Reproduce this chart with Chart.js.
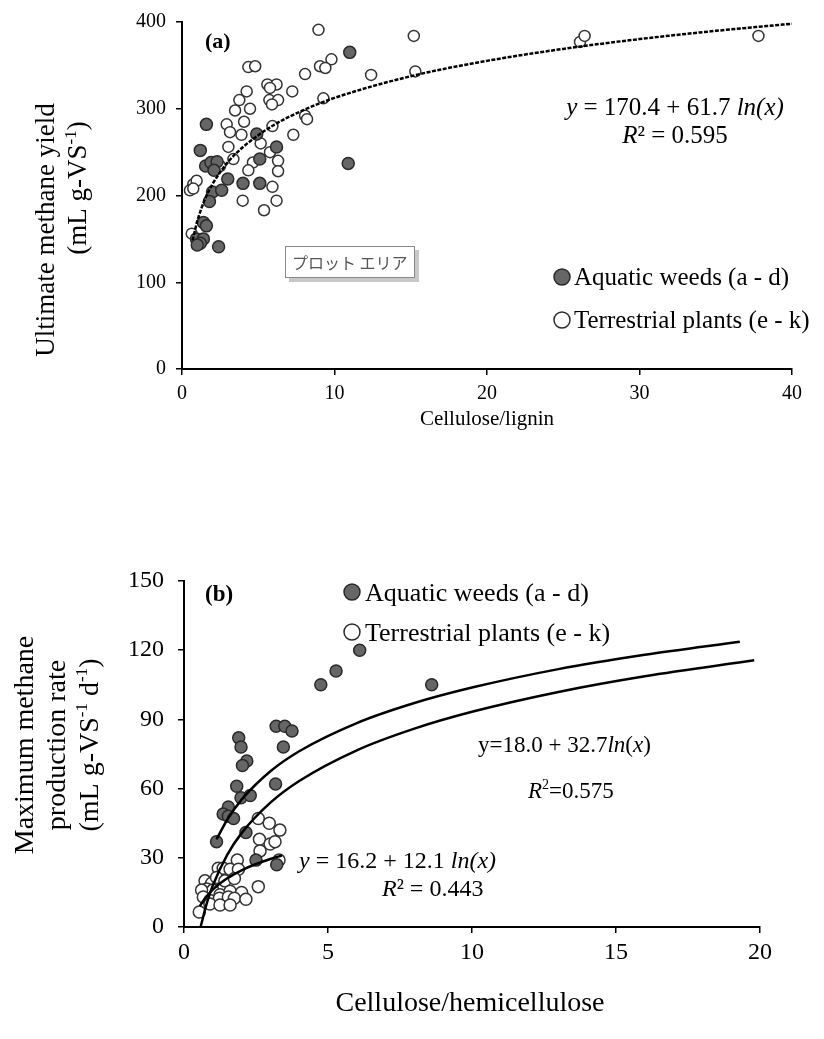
<!DOCTYPE html>
<html>
<head>
<meta charset="utf-8">
<script src="https://cdn.jsdelivr.net/npm/chart.js@4.4.0/dist/chart.umd.min.js"></script>
<style>
  body { margin: 0; background: #fff; }
  #wrap { position: relative; width: 824px; height: 1039px; }
  .box { position: absolute; left: 0; width: 824px; }
</style>
</head>
<body>
<div id="wrap">
  <div class="box" style="top:0;height:450px"><canvas id="chartA" width="824" height="450"></canvas></div>
  <div class="box" style="top:540px;height:499px"><canvas id="chartB" width="824" height="499"></canvas></div>
</div>
<script>
// (a) cellulose/lignin vs ultimate methane yield
const aquaticA_x = [1.6, 1.2, 1.55, 1.9, 2.3, 2.1, 3.0, 4.0, 5.1, 2.0, 2.6, 1.8, 1.4, 1.6, 0.95, 1.4, 1.2, 1.0, 2.4, 4.9, 6.2, 5.1, 11.0, 10.9];
const aquaticA_y = [282, 252, 234, 238, 239, 229, 219, 214, 214, 204, 206, 193, 169, 165, 150, 150, 145, 143, 141, 271, 256, 242, 365, 237];
const terrestrialA_x = [8.95, 4.35, 4.8, 9.8, 9.05, 9.4, 8.07, 12.4, 5.6, 6.2, 5.77, 4.24, 7.23, 3.76, 5.73, 6.3, 5.9, 9.27, 3.48, 4.46, 8.07, 8.2, 2.93, 3.15, 4.07, 3.9, 5.93, 7.3, 5.16, 3.04, 5.77, 3.37, 4.65, 6.3, 6.3, 4.35, 2.5, 0.74, 0.96, 0.52, 0.74, 3.98, 5.38, 6.2, 5.93, 0.64, 15.2, 15.3, 26.1, 26.4, 37.8];
const terrestrialA_y = [391, 348, 349, 357, 349, 347, 340, 339, 328, 328, 324, 320, 320, 310, 310, 310, 305, 312, 298, 300, 292, 288, 282, 273, 285, 270, 280, 270, 260, 256, 250, 242, 238, 240, 228, 229, 234, 213, 217, 206, 208, 194, 183, 194, 210, 156, 384, 343, 377, 384, 384];
// trend line y = 170.4 + 61.7 ln(x)
const fitA_x = [0.7, 1, 1.5, 2, 3, 4, 6, 8, 10, 15, 20, 25, 30, 35, 40];
const fitA_y = [148.4, 170.4, 195.4, 213.2, 238.2, 255.9, 281.0, 298.7, 312.5, 337.5, 355.2, 369.0, 380.3, 389.8, 398.0];
const ticksA_x = [0, 10, 20, 30, 40];
const ticksA_y = [0, 100, 200, 300, 400];

// (b) cellulose/hemicellulose vs maximum methane production rate
const aquaticB_x = [6.1, 5.28, 4.75, 8.6, 1.9, 1.98, 3.2, 3.5, 3.75, 3.45, 2.18, 2.03, 1.83, 3.18, 1.98, 2.3, 1.54, 1.36, 1.54, 1.72, 1.13, 2.15, 2.5, 3.22];
const aquaticB_y = [120, 111, 105, 105, 82, 78, 87, 87, 85, 78, 72, 70, 61, 62, 56, 57, 52, 49, 48, 47, 37, 41, 29, 27];
const terrestrialB_x = [2.58, 2.96, 3.33, 2.62, 2.99, 3.16, 2.64, 1.85, 3.3, 1.19, 1.36, 1.6, 1.89, 0.73, 0.96, 1.13, 1.42, 1.75, 0.79, 1.0, 1.25, 1.6, 2.0, 2.58, 0.61, 0.67, 0.9, 1.23, 1.54, 1.75, 2.15, 0.9, 1.25, 1.6, 0.53];
const terrestrialB_y = [47, 45, 42, 38, 36, 37, 33, 29, 29, 25.5, 25.5, 25, 25, 20, 19, 21.5, 20, 21, 16.5, 16, 14, 15.5, 15, 17.5, 16, 13, 11.5, 12.5, 13, 12.5, 12, 10, 9.5, 9.5, 6.5];
// curves
const fitAllB_x = [0.58, 0.8, 1, 1.5, 2, 3, 4, 6, 8, 10, 13, 16, 19.8];
const fitAllB_y = [0.2, 10.7, 18, 31.3, 40.7, 53.9, 63.3, 76.6, 86.0, 93.3, 101.9, 108.7, 115.6];
const fitAquaticB_x = [1.13, 1.5, 2, 3, 4, 6, 8, 10, 13, 16, 19.3];
const fitAquaticB_y = [38.0, 46.5, 55.2, 67.5, 76.2, 88.4, 97.1, 103.8, 111.8, 118.0, 123.7];
const fitTerrB_x = [0.55, 0.7, 1, 1.5, 2, 2.5, 3, 3.4];
const fitTerrB_y = [9.0, 11.9, 16.2, 21.1, 24.6, 27.3, 29.5, 31.0];
const ticksB_x = [0, 5, 10, 15, 20];
const ticksB_y = [0, 30, 60, 90, 120, 150];

const SERIF = '"Liberation Serif", "Times New Roman", serif';

function pairs(xs, ys) {
    return xs.map(function(x, i) { return { x: x, y: ys[i] }; });
}

function filledSet(label, xs, ys, r) {
    return { label: label, data: pairs(xs, ys), pointRadius: r, pointBackgroundColor: '#666666',
             pointBorderColor: '#2a2a2a', pointBorderWidth: 1.5, showLine: false, order: 2 };
}
function openSet(label, xs, ys, r) {
    return { label: label, data: pairs(xs, ys), pointRadius: r, pointBackgroundColor: '#ffffff',
             pointBorderColor: '#333333', pointBorderWidth: 1.5, showLine: false, order: 3 };
}
function curveSet(label, xs, ys, dash) {
    return { label: label, data: pairs(xs, ys), showLine: true, pointRadius: 0, borderColor: '#000',
             borderWidth: 2.5, borderDash: dash || [], cubicInterpolationMode: 'monotone', fill: false, order: 1 };
}

// draw a line made of styled pieces: {t, i, b, sup}
function drawRich(ctx, segs, x, y, size, align) {
    let w = 0;
    const parts = segs.map(function(s) {
        const fs = s.sup ? Math.round(size * 0.62) : size;
        const font = (s.i ? 'italic ' : '') + (s.b ? 'bold ' : '') + fs + 'px ' + SERIF;
        ctx.font = font;
        const pw = ctx.measureText(s.t).width;
        w += pw;
        return { t: s.t, font: font, pw: pw, dy: s.sup ? -size * 0.38 : 0 };
    });
    let cx = align === 'center' ? x - w / 2 : (align === 'right' ? x - w : x);
    ctx.textAlign = 'left';
    ctx.textBaseline = 'alphabetic';
    ctx.fillStyle = '#000';
    parts.forEach(function(p) {
        ctx.font = p.font;
        ctx.fillText(p.t, cx, y + p.dy);
        cx += p.pw;
    });
}

function drawRotated(ctx, segs, x, y, size) {
    ctx.save();
    ctx.translate(x, y);
    ctx.rotate(-Math.PI / 2);
    drawRich(ctx, segs, 0, 0, size, 'center');
    ctx.restore();
}

function marker(ctx, x, y, r, filled) {
    ctx.beginPath();
    ctx.arc(x, y, r, 0, Math.PI * 2);
    ctx.fillStyle = filled ? '#666666' : '#ffffff';
    ctx.fill();
    ctx.lineWidth = 1.5;
    ctx.strokeStyle = '#2a2a2a';
    ctx.stroke();
}

function axisOpts(min, max, step, width, height, fontSize, pad) {
    const o = {
        type: 'linear', min: min, max: max,
        ticks: { stepSize: step, color: '#000', padding: pad, font: { family: SERIF, size: fontSize } },
        grid: { drawOnChartArea: false, drawTicks: true, tickLength: 6, color: '#000', lineWidth: 1.5 },
        border: { color: '#000', width: 2 },
        title: { display: false }
    };
    if (width) o.afterFit = function(scale) { scale.width = width; };
    if (height) o.afterFit = function(scale) { scale.height = height; };
    return o;
}

// chart (a)
const decorA = {
    id: 'decorA',
    afterDraw: function(chart) {
        const ctx = chart.ctx;
        ctx.save();
        drawRich(ctx, [{ t: '(a)', b: true }], 205, 48, 22, 'left');
        drawRotated(ctx, [{ t: 'Ultimate methane yield' }], 54, 230, 27);
        drawRotated(ctx, [{ t: '(mL g-VS' }, { t: '-1', sup: true }, { t: ')' }], 86, 188, 27);
        drawRich(ctx, [{ t: 'Cellulose/lignin' }], 487, 425, 21, 'center');
        drawRich(ctx, [{ t: 'y', i: true }, { t: ' = 170.4 + 61.7 ' }, { t: 'ln(x)', i: true }], 675, 115, 25, 'center');
        drawRich(ctx, [{ t: 'R', i: true }, { t: '² = 0.595' }], 675, 143, 25, 'center');
        marker(ctx, 562, 277, 8, true);
        drawRich(ctx, [{ t: 'Aquatic weeds (a - d)' }], 574, 285, 25, 'left');
        marker(ctx, 562, 320, 8, false);
        drawRich(ctx, [{ t: 'Terrestrial plants (e - k)' }], 574, 328, 25, 'left');
        // excel hover label
        ctx.fillStyle = '#c8c8c8';
        ctx.fillRect(289, 250, 130, 32);
        ctx.fillStyle = '#ffffff';
        ctx.fillRect(285, 246, 130, 32);
        ctx.strokeStyle = '#8a8a8a';
        ctx.lineWidth = 1;
        ctx.strokeRect(285.5, 246.5, 129, 31);
        ctx.fillStyle = '#555';
        ctx.font = '16px "Noto Sans CJK JP"';
        ctx.textBaseline = 'middle';
        ctx.fillText('プロット エリア', 292, 263);
        ctx.restore();
    }
};

new Chart(document.getElementById('chartA').getContext('2d'), {
    type: 'scatter',
    data: {
        datasets: [
            curveSet('y = 170.4 + 61.7 ln(x)', fitA_x, fitA_y, [4, 1.5]),
            filledSet('Aquatic weeds (a - d)', aquaticA_x, aquaticA_y, 6),
            openSet('Terrestrial plants (e - k)', terrestrialA_x, terrestrialA_y, 5.5)
        ]
    },
    options: {
        responsive: false,
        animation: false,
        layout: { padding: { top: 21, right: 32, left: 0, bottom: 0 } },
        plugins: { legend: { display: false }, tooltip: { enabled: false } },
        scales: {
            x: axisOpts(ticksA_x[0], ticksA_x[ticksA_x.length - 1], ticksA_x[1] - ticksA_x[0], 0, 81, 20, 7),
            y: axisOpts(ticksA_y[0], ticksA_y[ticksA_y.length - 1], ticksA_y[1] - ticksA_y[0], 182, 0, 20, 10)
        }
    },
    plugins: [decorA]
});

// chart (b)
const decorB = {
    id: 'decorB',
    afterDraw: function(chart) {
        const ctx = chart.ctx;
        ctx.save();
        drawRich(ctx, [{ t: '(b)', b: true }], 205, 61, 23, 'left');
        drawRotated(ctx, [{ t: 'Maximum methane' }], 33, 205, 28);
        drawRotated(ctx, [{ t: 'production rate' }], 65, 205, 28);
        drawRotated(ctx, [{ t: '(mL g-VS' }, { t: '-1', sup: true }, { t: ' d' }, { t: '-1', sup: true }, { t: ')' }], 98, 205, 28);
        drawRich(ctx, [{ t: 'Cellulose/hemicellulose' }], 470, 471, 28, 'center');
        marker(ctx, 352, 52, 8, true);
        drawRich(ctx, [{ t: 'Aquatic weeds (a - d)' }], 365, 61, 26, 'left');
        marker(ctx, 352, 92, 8, false);
        drawRich(ctx, [{ t: 'Terrestrial plants (e - k)' }], 365, 101, 26, 'left');
        drawRich(ctx, [{ t: 'y=18.0 + 32.7' }, { t: 'ln', i: true }, { t: '(' }, { t: 'x', i: true }, { t: ')' }], 478, 212, 23, 'left');
        drawRich(ctx, [{ t: 'R', i: true }, { t: '2', sup: true }, { t: '=0.575' }], 528, 258, 23, 'left');
        drawRich(ctx, [{ t: 'y', i: true }, { t: ' = 16.2 + 12.1 ' }, { t: 'ln(x)', i: true }], 299, 328, 24, 'left');
        drawRich(ctx, [{ t: 'R', i: true }, { t: '² = 0.443' }], 382, 356, 24, 'left');
        ctx.restore();
    }
};

new Chart(document.getElementById('chartB').getContext('2d'), {
    type: 'scatter',
    data: {
        datasets: [
            curveSet('y=18.0 + 32.7ln(x)', fitAllB_x, fitAllB_y),
            curveSet('aquatic fit', fitAquaticB_x, fitAquaticB_y),
            curveSet('y = 16.2 + 12.1 ln(x)', fitTerrB_x, fitTerrB_y),
            filledSet('Aquatic weeds (a - d)', aquaticB_x, aquaticB_y, 6),
            openSet('Terrestrial plants (e - k)', terrestrialB_x, terrestrialB_y, 6)
        ]
    },
    options: {
        responsive: false,
        animation: false,
        layout: { padding: { top: 41, right: 64, left: 0, bottom: 0 } },
        plugins: { legend: { display: false }, tooltip: { enabled: false } },
        scales: {
            x: axisOpts(ticksB_x[0], ticksB_x[ticksB_x.length - 1], ticksB_x[1] - ticksB_x[0], 0, 112, 24, 5),
            y: axisOpts(ticksB_y[0], ticksB_y[ticksB_y.length - 1], ticksB_y[1] - ticksB_y[0], 184, 0, 24, 14)
        }
    },
    plugins: [decorB]
});
</script>
</body>
</html>
